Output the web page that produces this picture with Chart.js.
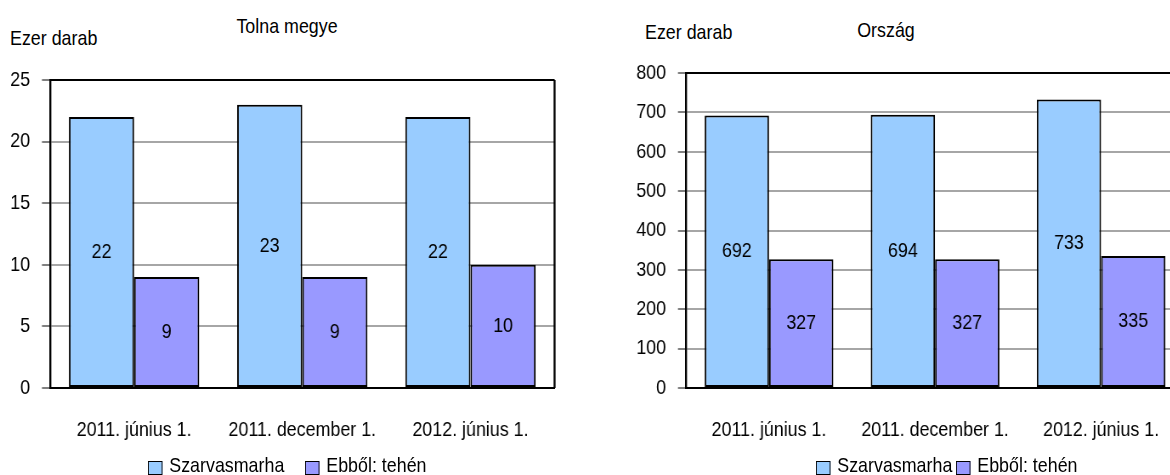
<!DOCTYPE html>
<html>
<head>
<meta charset="utf-8">
<script src="https://cdn.jsdelivr.net/npm/chart.js@4/dist/chart.umd.min.js"></script>
<style>
  html, body { margin: 0; padding: 0; background: #fff; overflow: hidden; }
  body { width: 1170px; height: 475px; position: relative;
         font-family: 'Liberation Sans', Arial, sans-serif; }
  /* the source renders a narrow Arial: draw wide, squeeze horizontally */
  .panel { position: absolute; top: 0; }
  .panel canvas { transform: scaleX(0.85); transform-origin: 0 0; }
  .txt { position: absolute; font-size: 21px; line-height: 21px; color: #000; white-space: nowrap;
         transform: scaleX(0.85); transform-origin: 0 0; }
  .ctr { transform: translateX(-50%) scaleX(0.85); transform-origin: 50% 0; }
  .item { position: absolute; display: flex; align-items: center; font-size: 21px; line-height: 21px;
          white-space: nowrap; transform: scaleX(0.85); transform-origin: 0 0; }
  .item .box { width: 15px; height: 12px; border: 1.5px solid #000; margin-right: 8px; margin-top: 6px; }
</style>
</head>
<body>
<div class="txt" style="left:10px; top:27px">Ezer darab</div>
<div class="txt ctr" style="left:287px; top:15px">Tolna megye</div>
<div class="txt" style="left:645px; top:21px">Ezer darab</div>
<div class="txt ctr" style="left:886px; top:19px">Ország</div>

<div class="panel" style="left:0"><canvas id="tolnaChart" width="683" height="475"></canvas></div>
<div class="panel" style="left:600px"><canvas id="countryChart" width="706" height="475"></canvas></div>

<div id="legendLeft"></div>
<div id="legendRight"></div>

<script>
// ── Data ─────────────────────────────────────────────────────────────────────
const categories    = ['2011. június 1.', '2011. december 1.', '2012. június 1.'];
const seriesNames   = ['Szarvasmarha', 'Ebből: tehén'];
const seriesColors  = ['#99CCFF', '#9999FF'];

const tolnaCattle   = [22, 23, 22];
const tolnaCows     = [9, 9, 10];
const tolnaMax      = 25;
const tolnaStep     = 5;

const countryCattle = [692, 694, 733];
const countryCows   = [327, 327, 335];
const countryMax    = 800;
const countryStep   = 100;

const FONT = "'Liberation Sans', Arial, sans-serif";
const SQ   = 0.85;   // horizontal squeeze applied to the canvases via css

// ── Plugins ──────────────────────────────────────────────────────────────────
// black frame on top + right of the plot area
const framePlugin = {
  id: 'frame',
  afterDraw(chart) {
    const { ctx, chartArea: a } = chart;
    ctx.save();
    ctx.strokeStyle = '#000';
    ctx.lineWidth = 2;
    ctx.beginPath();
    ctx.moveTo(a.left, a.top);
    ctx.lineTo(a.right, a.top);
    ctx.stroke();
    ctx.lineWidth = 2.4;
    ctx.beginPath();
    ctx.moveTo(a.right, a.top);
    ctx.lineTo(a.right, a.bottom);
    ctx.stroke();
    ctx.restore();
  }
};

// value in the middle of every bar
const barLabels = {
  id: 'barLabels',
  afterDatasetsDraw(chart) {
    const ctx = chart.ctx;
    ctx.save();
    ctx.fillStyle = '#000';
    ctx.font = '21px ' + FONT;
    ctx.textAlign = 'center';
    ctx.textBaseline = 'middle';
    chart.data.datasets.forEach((ds, i) => {
      chart.getDatasetMeta(i).data.forEach((bar, j) => {
        ctx.fillText(String(ds.data[j]), bar.x, (bar.y + bar.base) / 2);
      });
    });
    ctx.restore();
  }
};

// ── Chart Setup ──────────────────────────────────────────────────────────────
function makeChart(id, cattle, cows, yMax, yStep, yWidth, pad) {
  return new Chart(document.getElementById(id), {
    type: 'bar',
    data: {
      labels: categories,
      datasets: [
        { label: seriesNames[0], data: cattle, backgroundColor: seriesColors[0],
          borderColor: '#000', borderWidth: 2, borderSkipped: false },
        { label: seriesNames[1], data: cows, backgroundColor: seriesColors[1],
          borderColor: '#000', borderWidth: 2, borderSkipped: false }
      ]
    },
    options: {
      responsive: false,
      animation: false,
      layout: { padding: pad },
      plugins: { legend: { display: false }, tooltip: { enabled: false } },
      datasets: { bar: { categoryPercentage: 0.775, barPercentage: 1 } },
      scales: {
        x: {
          grid: { display: false, drawTicks: false },
          border: { display: true, color: '#000', width: 2 },
          ticks: { color: '#000', font: { family: FONT, size: 21 }, padding: 30,
                   maxRotation: 0, autoSkip: false },
          afterFit: s => { s.height = 87; }
        },
        y: {
          min: 0, max: yMax,
          grid: { color: '#a6a6a6', lineWidth: 2, tickLength: 9.5, tickColor: '#808080' },
          border: { display: true, color: '#000', width: 2.4 },
          ticks: { stepSize: yStep, color: '#000', font: { family: FONT, size: 21 }, padding: 14 },
          afterFit: s => { s.width = yWidth; }
        }
      }
    },
    plugins: [framePlugin, barLabels]
  });
}

const tolnaChart   = makeChart('tolnaChart', tolnaCattle, tolnaCows, tolnaMax, tolnaStep, 50 / SQ,
                               { top: 80, right: 26 / SQ, bottom: 0, left: 0 });
const countryChart = makeChart('countryChart', countryCattle, countryCows, countryMax, countryStep, 86 / SQ,
                               { top: 73, right: 16 / SQ, bottom: 0, left: 0 });

// ── Legends ──────────────────────────────────────────────────────────────────
function buildLegend(id, lefts) {
  const el = document.getElementById(id);
  seriesNames.forEach((name, i) => {
    const item = document.createElement('div');
    item.className = 'item';
    item.style.left = lefts[i] + 'px';
    item.style.top = '454px';
    const box = document.createElement('div');
    box.className = 'box';
    box.style.background = seriesColors[i];
    const label = document.createElement('span');
    label.textContent = name;
    item.appendChild(box);
    item.appendChild(label);
    el.appendChild(item);
  });
}
buildLegend('legendLeft',  [148, 305]);
buildLegend('legendRight', [816, 956]);
</script>
</body>
</html>
